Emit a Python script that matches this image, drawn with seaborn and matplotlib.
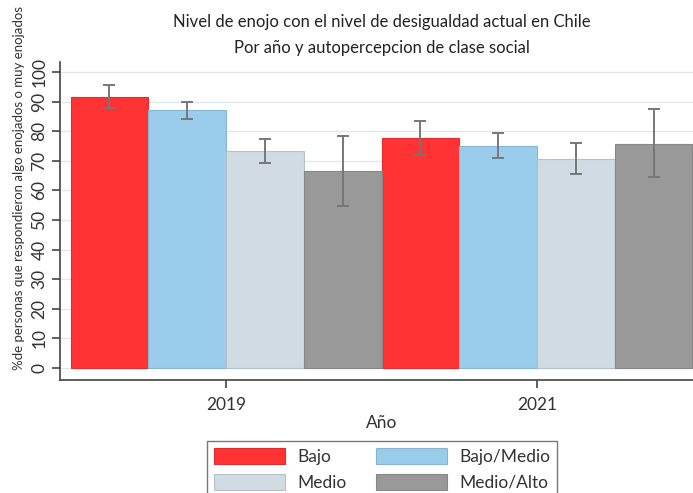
import matplotlib
matplotlib.use("Agg")
import matplotlib.pyplot as plt
import matplotlib.colors as mcolors
from matplotlib.patches import Patch
import numpy as np
import pandas as pd
import seaborn as sns

# ---- data ----
years = ["2019", "2021"]
classes = ["Bajo", "Bajo/Medio", "Medio", "Medio/Alto"]
values_2019 = [91.5, 87.1, 73.3, 66.5]
values_2021 = [77.7, 75.0, 70.6, 75.8]
ci_low_2019 = [87.8, 84.3, 69.2, 54.9]
ci_high_2019 = [95.6, 89.9, 77.5, 78.3]
ci_low_2021 = [72.0, 71.0, 65.6, 64.7]
ci_high_2021 = [83.6, 79.4, 75.9, 87.4]
yticks = [0, 10, 20, 30, 40, 50, 60, 70, 80, 90, 100]
colors = ["#FF3333", "#9ACDEB", "#D0DBE4", "#999999"]

title_l1 = "Nivel de enojo con el nivel de desigualdad actual en Chile"
title_l2 = "Por año y autopercepcion de clase social"
ylabel = "%de personas que respondieron algo enojados o muy enojados"
xlabel = "Año"

df = pd.DataFrame({
    "year": [y for y in years for _ in classes],
    "clase": classes * len(years),
    "valor": values_2019 + values_2021,
    "lo": ci_low_2019 + ci_low_2021,
    "hi": ci_high_2019 + ci_high_2021,
})

sns.set_style("white")
plt.rcParams["font.family"] = ["Lato", "DejaVu Sans"]

W, H = 693, 493
fig = plt.figure(figsize=(W / 100, H / 100), dpi=100)
fig.patch.set_facecolor("white")
ax = fig.add_axes([60 / W, 1 - 380 / H, 644 / W, 318 / H])

sns.barplot(data=df, x="year", y="valor", hue="clase", order=years,
            hue_order=classes, palette=colors, width=1.0, gap=0,
            errorbar=None, saturation=1, ax=ax, legend=False, zorder=2)

bar_containers = list(ax.containers)
for cont, col, cls in zip(bar_containers, colors, classes):
    dark = np.array(mcolors.to_rgb(col)) * 0.88
    for bar in cont:
        bar.set_edgecolor(dark)
        bar.set_linewidth(0.8)
    sub = df[df["clase"] == cls].set_index("year").loc[years]
    xs = [b.get_x() + b.get_width() / 2 for b in cont]
    vals = sub["valor"].values
    ax.errorbar(xs, vals, yerr=[vals - sub["lo"].values, sub["hi"].values - vals],
                fmt="none", ecolor="#777777", elinewidth=1.4, capsize=4,
                capthick=1.4, zorder=3)

ax.set_ylim(-4.05, 103.4)
ax.set_xlim(-0.534, 1.537)
ax.set_yticks(yticks)
ax.set_yticklabels([str(t) for t in yticks], rotation=90, va="center", fontsize=12.5,
                   color="#333333")
ax.tick_params(axis="x", labelsize=12.5, colors="#444444", labelcolor="#333333",
               length=6, width=1.2, direction="out", bottom=True, pad=6)
ax.tick_params(axis="y", colors="#444444", labelcolor="#333333",
               length=6, width=1.2, direction="out", left=True, pad=3)
ax.yaxis.grid(True, color="#E6E6E6", linewidth=1.0, zorder=0)
ax.set_axisbelow(True)
for s in ["top", "right"]:
    ax.spines[s].set_visible(False)
for s in ["left", "bottom"]:
    ax.spines[s].set_color("#444444")
    ax.spines[s].set_linewidth(1.2)
ax.set_xlabel(xlabel, fontsize=12.5, color="#333333", labelpad=2)
ax.set_ylabel("")

fig.text(19 / W, 1 - 188 / H, ylabel, rotation=90, ha="center", va="center",
         fontsize=9.5, color="#333333")
fig.text(382 / W, 1 - 22 / H, title_l1, ha="center", va="center", fontsize=12,
         color="#222222")
fig.text(382 / W, 1 - 48 / H, title_l2, ha="center", va="center", fontsize=12,
         color="#222222")

# legend filled row-wise: (Bajo, Bajo/Medio) / (Medio, Medio/Alto)
order = [0, 2, 1, 3]
handles = [Patch(facecolor=colors[i], edgecolor=np.array(mcolors.to_rgb(colors[i])) * 0.88,
                 linewidth=0.8) for i in order]
labels = [classes[i] for i in order]
leg = fig.legend(handles, labels, loc="upper center",
                 bbox_to_anchor=(382 / W, 1 - 441 / H), ncol=2, fontsize=12.5,
                 frameon=True, fancybox=False, handlelength=4.1, handleheight=1.08,
                 handletextpad=0.7, columnspacing=1.7, labelspacing=0.5,
                 borderpad=0.4, borderaxespad=0)
leg.get_frame().set_edgecolor("#555555")
leg.get_frame().set_linewidth(1.0)
for t in leg.get_texts():
    t.set_color("#333333")

fig.savefig("out.png", dpi=100, facecolor="white")
